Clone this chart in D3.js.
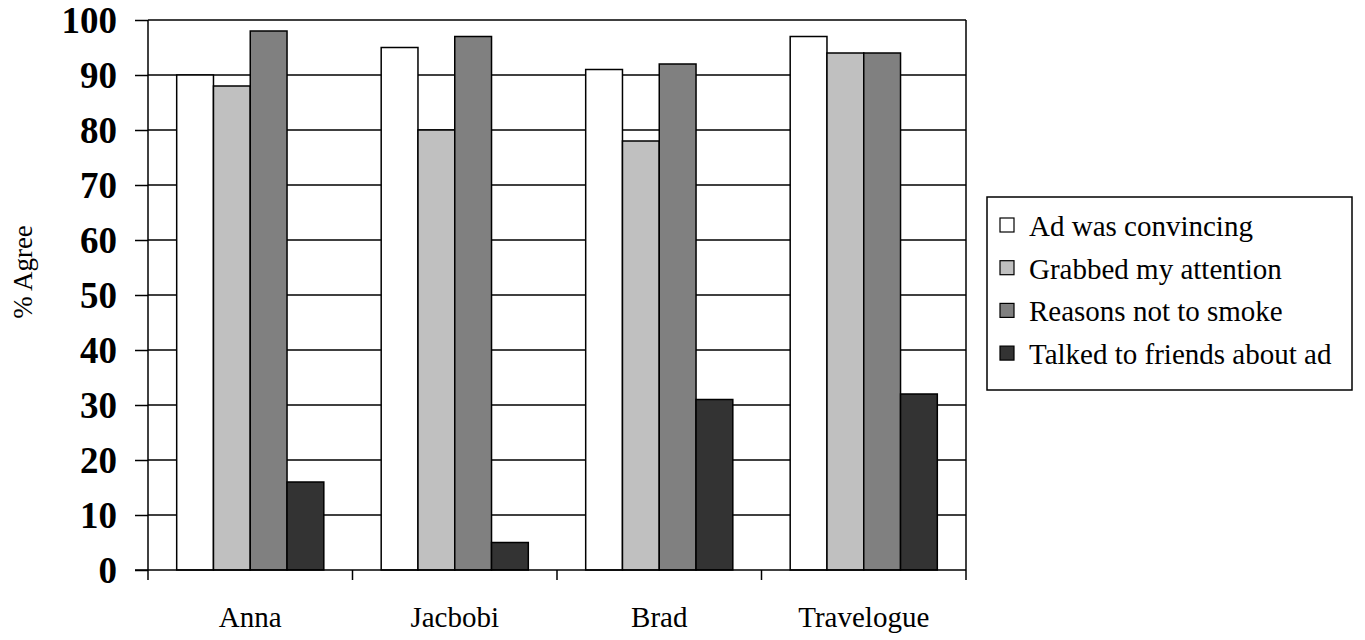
<!DOCTYPE html>
<html><head><meta charset="utf-8">
<script src="https://cdn.jsdelivr.net/npm/d3@7"></script>
<style>body{margin:0;background:#fff}svg{display:block}
svg text{font-family:"Liberation Serif","Times New Roman",Times,serif;fill:#000}</style>
</head><body>
<svg id="c" width="1365" height="640"></svg>
<script>
const categories = ["Anna", "Jacbobi", "Brad", "Travelogue"];
const seriesNames = ["Ad was convincing", "Grabbed my attention", "Reasons not to smoke", "Talked to friends about ad"];
const convincing = [90, 95, 91, 97];
const attention = [88, 80, 78, 94];
const reasons = [98, 97, 92, 94];
const talked = [16, 5, 31, 32];
const yTicks = [0, 10, 20, 30, 40, 50, 60, 70, 80, 90, 100];
const colors = ["#ffffff", "#c0c0c0", "#808080", "#333333"];
const seriesValues = [convincing, attention, reasons, talked];

const svg = d3.select("#c");
const L = 148, R = 966, T = 20, B = 570;
const x = d3.scaleBand().domain(categories).range([L, R]).paddingInner(0).paddingOuter(0);
const y = d3.scaleLinear().domain([0, 100]).range([B, T]);
const inner = d3.scaleBand().domain(seriesNames).range([0, x.bandwidth()]).paddingInner(0).paddingOuter(0.78);

// gridlines
svg.append("g").selectAll("line").data(yTicks.filter(d => d > 0)).join("line")
  .attr("x1", L).attr("x2", R).attr("y1", d => y(d)).attr("y2", d => y(d))
  .attr("stroke", "#000").attr("stroke-width", 1.5);
// right border
svg.append("line").attr("x1", R).attr("x2", R).attr("y1", T).attr("y2", B).attr("stroke", "#000").attr("stroke-width", 1.5);

// bars
const data = [];
categories.forEach((c, i) => seriesNames.forEach((s, j) => data.push({c, s, j, v: seriesValues[j][i]})));
svg.append("g").selectAll("rect").data(data).join("rect")
  .attr("x", d => x(d.c) + inner(d.s))
  .attr("width", inner.bandwidth())
  .attr("y", d => y(d.v))
  .attr("height", d => B - y(d.v))
  .attr("fill", d => colors[d.j])
  .attr("stroke", "#000").attr("stroke-width", 1.5);

// y axis
const ya = svg.append("g").attr("transform", `translate(${L},0)`)
  .call(d3.axisLeft(y).tickValues(yTicks).tickSize(13).tickPadding(18));
ya.attr("font-family", null).attr("font-size", null);
ya.select(".domain").attr("stroke-width", 1.5).attr("d", `M-0,${B}V${T}`);
ya.selectAll(".tick line").attr("stroke-width", 1.5);
ya.selectAll("text").style("font-size", "37px").style("font-weight", "bold").attr("dy", "0.34em");

// x axis
const xa = svg.append("g").attr("transform", `translate(0,${B})`)
  .call(d3.axisBottom(x).tickSize(0).tickPadding(0));
xa.attr("font-family", null).attr("font-size", null);
xa.select(".domain").attr("stroke-width", 1.5).attr("d", `M${L - 13},0H${R}`);
xa.selectAll("text").style("font-size", "29px").attr("dy", null).attr("y", 57);
const bounds = categories.map(c => x(c)).concat([R]);
svg.append("g").selectAll("line").data(bounds).join("line")
  .attr("x1", d => d).attr("x2", d => d).attr("y1", B).attr("y2", B + 10)
  .attr("stroke", "#000").attr("stroke-width", 1.5);

// y title
svg.append("text").attr("transform", `translate(32,272) rotate(-90)`)
  .attr("text-anchor", "middle").style("font-size", "27px").text("% Agree");

// legend
const lg = svg.append("g");
lg.append("rect").attr("x", 987).attr("y", 197).attr("width", 365).attr("height", 193)
  .attr("fill", "#fff").attr("stroke", "#000").attr("stroke-width", 1.5);
const items = lg.selectAll("g.it").data(seriesNames).join("g").attr("class", "it")
  .attr("transform", (d, i) => `translate(1000,${236 + i * 42.7})`);
items.append("rect").attr("x", 0).attr("y", -18).attr("width", 14).attr("height", 14)
  .attr("fill", (d, i) => colors[i]).attr("stroke", "#000").attr("stroke-width", 1.2);
items.append("text").attr("x", 29).attr("y", 0).style("font-size", "29px").text(d => d);
</script>
</body></html>
